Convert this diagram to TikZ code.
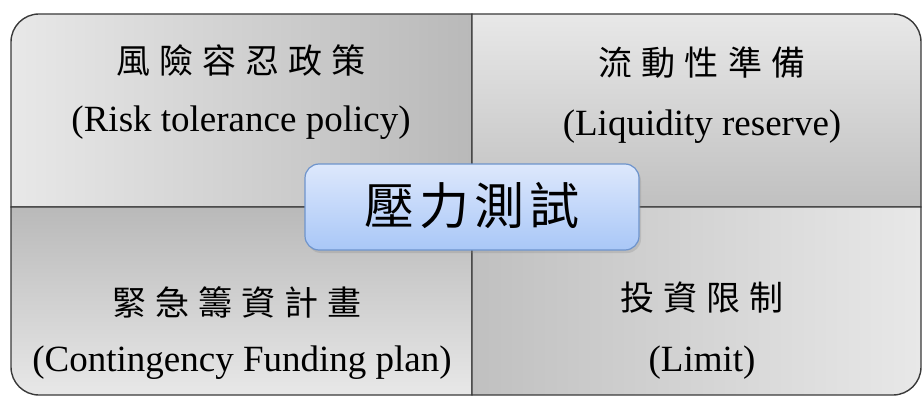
\documentclass[tikz,border=0pt]{standalone}
\usepackage{fontspec}
\setmainfont{Liberation Serif}
\newfontfamily\cjk[LetterSpace=27]{Noto Sans CJK TC}
\newfontfamily\cjkc[LetterSpace=10]{Noto Sans CJK TC}
\usetikzlibrary{shadows}
\definecolor{edge}{HTML}{3A3A3A}
\definecolor{lightg}{HTML}{E8E8E8}
\definecolor{darkg}{HTML}{B9B9B9}
\definecolor{btop}{HTML}{DDE8FC}
\definecolor{bbot}{HTML}{A9C7F7}
\definecolor{bedge}{HTML}{6E94CC}
\tikzset{
  quad/.style={draw=edge, line width=1.4pt},
  cjktxt/.style={font=\cjk\fontsize{34}{40}\selectfont, inner sep=0pt},
  entxt/.style={font=\fontsize{37}{44}\selectfont, inner sep=0pt},
  centerbox/.style={draw=bedge, line width=1.2pt, rounded corners=14pt,
    top color=btop, bottom color=bbot, minimum width=334pt, minimum height=86pt,
    drop shadow={shadow xshift=2pt, shadow yshift=-3pt, opacity=0.25}},
}
\begin{document}
\begin{tikzpicture}[x=1pt,y=1pt]
\useasboundingbox (0,0) rectangle (923,397);
% quadrants
\path[quad, left color=lightg, right color=darkg]
  (11,190) -- (11,355) arc[start angle=180,end angle=90,radius=28] -- (472,383) -- (472,190) -- cycle;
\path[quad, top color=lightg, bottom color=darkg!90!white]
  (472,190) -- (472,383) -- (893,383) arc[start angle=90,end angle=0,radius=28] -- (921,190) -- cycle;
\path[quad, top color=darkg, bottom color=lightg]
  (11,190) -- (472,190) -- (472,2) -- (39,2) arc[start angle=270,end angle=180,radius=28] -- cycle;
\path[quad, left color=darkg!90!white, right color=lightg]
  (472,190) -- (921,190) -- (921,30) arc[start angle=0,end angle=-90,radius=28] -- (893,2) -- (472,2) -- cycle;
% texts
\node[cjktxt] (tlc) at (241,337) {風險容忍政策};
\node[entxt] (tle) at (241,274) {(Risk tolerance policy)};
\node[cjktxt] (trc) at (702,334) {流動性準備};
\node[entxt] (tre) at (702,270) {(Liquidity reserve)};
\node[cjktxt] (blc) at (237,95) {緊急籌資計畫};
\node[entxt] (ble) at (242,34) {(Contingency Funding plan)};
\node[cjktxt] (brc) at (702,99) {投資限制};
\node[entxt] (bre) at (702,34) {(Limit)};
% center
\node[centerbox] (center) at (472,190) {};
\node[font=\cjkc\fontsize{50}{56}\selectfont, inner sep=0pt] (ctext) at (472,192) {壓力測試};
\end{tikzpicture}
\end{document}
